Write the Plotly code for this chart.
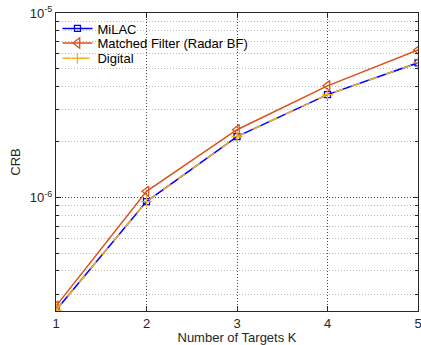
import plotly.graph_objects as go

K = [1, 2, 3, 4, 5]
crb_milac = [2.45e-7, 9.5e-7, 2.14e-6, 3.61e-6, 5.37e-6]
crb_mf = [2.58e-7, 1.08e-6, 2.33e-6, 4.03e-6, 6.3e-6]
crb_digital = [2.45e-7, 9.5e-7, 2.14e-6, 3.61e-6, 5.37e-6]
y_tick_vals = [1e-6, 1e-5]
y_tick_text = ["10<sup>-6</sup>", "10<sup>-5</sup>"]
y_minor_vals = [3e-7, 4e-7, 5e-7, 6e-7, 7e-7, 8e-7, 9e-7,
                2e-6, 3e-6, 4e-6, 5e-6, 6e-6, 7e-6, 8e-6, 9e-6]

fig = go.Figure()
fig.add_trace(go.Scatter(x=K, y=crb_milac, name="MiLAC", mode="lines+markers", legend="legend",
                         line=dict(color="#0000FF", width=1.5),
                         marker=dict(symbol="square-open", size=6, color="#0000FF", line=dict(width=1.3))))
fig.add_trace(go.Scatter(x=K, y=crb_mf, name="Matched Filter (Radar BF)", mode="lines+markers", legend="legend2",
                         line=dict(color="#D95319", width=1.5),
                         marker=dict(symbol="triangle-left-open", size=9, color="#D95319", line=dict(width=1.3))))
fig.add_trace(go.Scatter(x=K, y=crb_digital, name="Digital", mode="lines+markers", legend="legend3",
                         line=dict(color="#EDB120", width=1.5, dash="dash"),
                         marker=dict(symbol="cross-thin-open", size=8, color="#EDB120", line=dict(width=1.3, color="#EDB120"))))

# white legend backdrop (between gridlines and traces)
fig.add_shape(type="rect", xref="paper", yref="paper", x0=0.004, x1=0.51, y0=0.82, y1=0.997,
              fillcolor="white", line=dict(width=0), layer="between")

font = dict(family="Liberation Sans, Arial, sans-serif", size=13, color="#262626")
leg_common = dict(x=0.004, xanchor="left", yanchor="middle", bgcolor="rgba(0,0,0,0)", borderwidth=0,
                  font=dict(size=13, color="#000000"), itemwidth=30)
fig.update_layout(
    template="none",
    width=421, height=345,
    margin=dict(l=56, r=3, t=13, b=34),
    paper_bgcolor="white", plot_bgcolor="white",
    font=font,
    showlegend=True,
    legend=dict(y=0.948, **leg_common),
    legend2=dict(y=0.899, **leg_common),
    legend3=dict(y=0.848, **leg_common),
    xaxis=dict(range=[1, 5], tickvals=K, ticks="inside", ticklen=5, tickcolor="#262626",
               showline=True, linecolor="#262626", linewidth=1, mirror="ticks",
               showgrid=True, gridcolor="#444444", griddash="1px,2px", gridwidth=1,
               zeroline=False, automargin=False, ticklabeloverflow="allow",
               title=dict(text="Number of Targets K", standoff=4, font=dict(size=13)),
               tickfont=dict(size=13)),
    yaxis=dict(type="log", range=[-6.615, -5.0], tickvals=y_tick_vals, ticktext=y_tick_text,
               ticks="inside", ticklen=5, tickcolor="#262626",
               showline=True, linecolor="#262626", linewidth=1, mirror="ticks",
               showgrid=True, gridcolor="#444444", griddash="1px,2px", gridwidth=1,
               zeroline=False, automargin=False, ticklabeloverflow="allow",
               minor=dict(tickmode="array", tickvals=y_minor_vals, ticks="inside", ticklen=3,
                          showgrid=True, gridcolor="#BBBBBB", griddash="1px,2px", gridwidth=1,
                          tickcolor="#262626"),
               title=dict(text="CRB", standoff=6, font=dict(size=13)),
               tickfont=dict(size=13)),
)

fig.write_html("out.html")
